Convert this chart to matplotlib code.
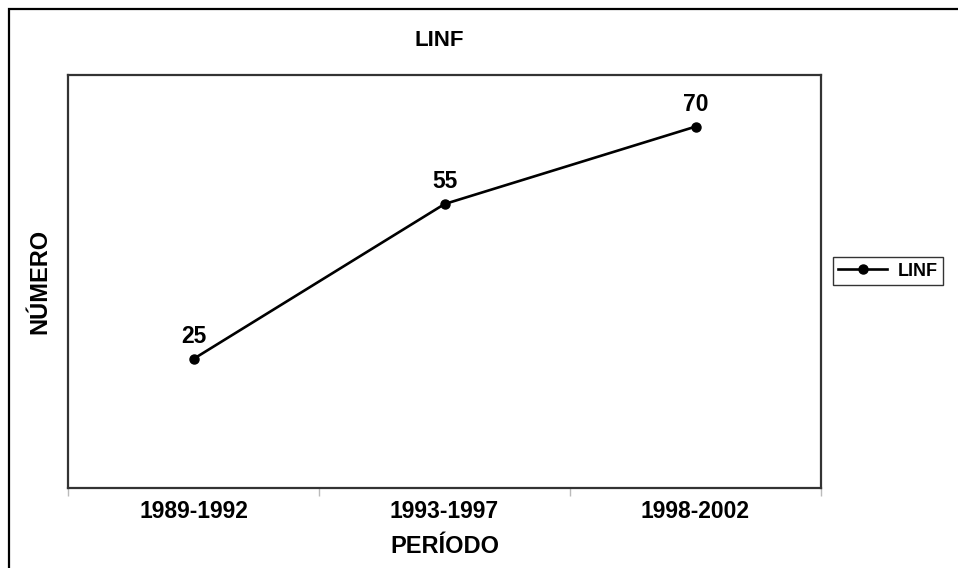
import matplotlib.pyplot as plt
from matplotlib.patches import Rectangle

# datos
periodos = ['1989-1992', '1993-1997', '1998-2002']
linf = [25, 55, 70]

plt.rcParams['font.family'] = ['Liberation Sans', 'DejaVu Sans']
plt.rcParams['font.weight'] = 'bold'

fig = plt.figure(figsize=(9.58, 5.68), dpi=100)
W, H = 958, 568

# marco exterior (solo se ve arriba y a la izquierda)
fig.patches.append(Rectangle((9 / W, -0.1), 1.2, 1.1 - 9 / H,
                             transform=fig.transFigure, fill=False,
                             edgecolor='black', linewidth=1.6))

ax = fig.add_axes([68 / W, 1 - 488 / H, (821 - 68) / W, (488 - 75) / H])

x = range(len(periodos))
ax.plot(x, linf, color='black', linewidth=1.9, marker='o', markersize=6.5,
        label='LINF')
for xi, v in zip(x, linf):
    ax.annotate(str(v), (xi, v), xytext=(0, 8), textcoords='offset points',
                ha='center', va='bottom', fontsize=16.5, fontweight='bold')

ax.set_xlim(-0.5, 2.5)
ax.set_ylim(0, 80)
ax.set_yticks([])

# ticks en los limites de categoria, etiquetas en el centro
ax.set_xticks([-0.5, 0.5, 1.5, 2.5])
ax.set_xticklabels([])
ax.set_xticks(list(x), minor=True)
ax.set_xticklabels(periodos, minor=True, fontsize=16.5, fontweight='bold')
ax.tick_params(axis='x', which='major', length=6, width=1, color='#bbbbbb',
               direction='out')
ax.tick_params(axis='x', which='minor', length=0, pad=9)

for s in ax.spines.values():
    s.set_linewidth(1.6)
    s.set_color('#333333')

ax.set_xlabel('PERÍODO', fontsize=17, fontweight='bold', labelpad=8)
ax.set_ylabel('NÚMERO', fontsize=17, fontweight='bold', labelpad=12)

fig.text(439 / W, 1 - 40 / H, 'LINF', ha='center', va='center',
         fontsize=16, fontweight='bold')

leg = ax.legend(loc='center left', bbox_to_anchor=(833 / W, 1 - 271 / H),
                bbox_transform=fig.transFigure, frameon=True, fancybox=False,
                fontsize=13, handlelength=2.7, borderaxespad=0,
                borderpad=0.3, handletextpad=0.6)
leg.get_frame().set_edgecolor('black')
leg.get_frame().set_linewidth(1.0)
for t in leg.get_texts():
    t.set_fontweight('bold')

fig.savefig('out.png', dpi=100)
